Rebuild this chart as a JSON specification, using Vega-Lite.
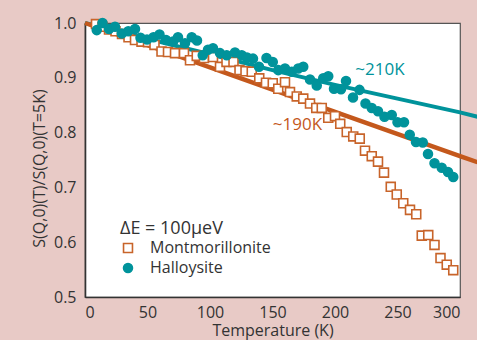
{
  "$schema": "https://vega.github.io/schema/vega-lite/v6.json",
  "width": 375,
  "height": 274,
  "autosize": {"type": "none"},
  "padding": {"left": 85, "top": 23, "right": 17, "bottom": 43},
  "background": "#e8cac6",
  "config": {
    "font": "Open Sans",
    "view": {"fill": "white", "stroke": "#555555", "strokeWidth": 1.2},
    "axis": {
      "grid": false,
      "ticks": false,
      "domainColor": "#333333",
      "domainWidth": 1.6,
      "labelFontSize": 16,
      "labelColor": "#333333",
      "titleFontSize": 16,
      "titleFontWeight": "normal",
      "titleColor": "#333333"
    }
  },
  "datasets": {
    "points": [
      {"T": 8.8, "V": 0.998, "sample": "Montmorillonite"},
      {"T": 14.0, "V": 0.993, "sample": "Montmorillonite"},
      {"T": 19.2, "V": 0.988, "sample": "Montmorillonite"},
      {"T": 24.4, "V": 0.985, "sample": "Montmorillonite"},
      {"T": 29.6, "V": 0.980, "sample": "Montmorillonite"},
      {"T": 34.8, "V": 0.974, "sample": "Montmorillonite"},
      {"T": 40.0, "V": 0.969, "sample": "Montmorillonite"},
      {"T": 45.2, "V": 0.966, "sample": "Montmorillonite"},
      {"T": 50.4, "V": 0.965, "sample": "Montmorillonite"},
      {"T": 55.6, "V": 0.960, "sample": "Montmorillonite"},
      {"T": 61.2, "V": 0.948, "sample": "Montmorillonite"},
      {"T": 66.4, "V": 0.947, "sample": "Montmorillonite"},
      {"T": 72.0, "V": 0.945, "sample": "Montmorillonite"},
      {"T": 79.2, "V": 0.945, "sample": "Montmorillonite"},
      {"T": 84.0, "V": 0.932, "sample": "Montmorillonite"},
      {"T": 89.4, "V": 0.940, "sample": "Montmorillonite"},
      {"T": 95.2, "V": 0.936, "sample": "Montmorillonite"},
      {"T": 102.4, "V": 0.938, "sample": "Montmorillonite"},
      {"T": 108.0, "V": 0.920, "sample": "Montmorillonite"},
      {"T": 113.2, "V": 0.929, "sample": "Montmorillonite"},
      {"T": 118.8, "V": 0.929, "sample": "Montmorillonite"},
      {"T": 123.6, "V": 0.914, "sample": "Montmorillonite"},
      {"T": 128.4, "V": 0.912, "sample": "Montmorillonite"},
      {"T": 133.4, "V": 0.911, "sample": "Montmorillonite"},
      {"T": 139.4, "V": 0.899, "sample": "Montmorillonite"},
      {"T": 144.8, "V": 0.891, "sample": "Montmorillonite"},
      {"T": 150.2, "V": 0.890, "sample": "Montmorillonite"},
      {"T": 154.6, "V": 0.880, "sample": "Montmorillonite"},
      {"T": 160.0, "V": 0.892, "sample": "Montmorillonite"},
      {"T": 164.0, "V": 0.874, "sample": "Montmorillonite"},
      {"T": 169.4, "V": 0.866, "sample": "Montmorillonite"},
      {"T": 174.6, "V": 0.862, "sample": "Montmorillonite"},
      {"T": 180.0, "V": 0.853, "sample": "Montmorillonite"},
      {"T": 185.0, "V": 0.845, "sample": "Montmorillonite"},
      {"T": 189.4, "V": 0.845, "sample": "Montmorillonite"},
      {"T": 194.6, "V": 0.827, "sample": "Montmorillonite"},
      {"T": 200.0, "V": 0.830, "sample": "Montmorillonite"},
      {"T": 204.2, "V": 0.816, "sample": "Montmorillonite"},
      {"T": 209.4, "V": 0.801, "sample": "Montmorillonite"},
      {"T": 214.6, "V": 0.793, "sample": "Montmorillonite"},
      {"T": 219.8, "V": 0.789, "sample": "Montmorillonite"},
      {"T": 224.0, "V": 0.767, "sample": "Montmorillonite"},
      {"T": 229.4, "V": 0.757, "sample": "Montmorillonite"},
      {"T": 234.4, "V": 0.747, "sample": "Montmorillonite"},
      {"T": 239.2, "V": 0.727, "sample": "Montmorillonite"},
      {"T": 244.6, "V": 0.701, "sample": "Montmorillonite"},
      {"T": 249.4, "V": 0.687, "sample": "Montmorillonite"},
      {"T": 254.6, "V": 0.671, "sample": "Montmorillonite"},
      {"T": 260.0, "V": 0.659, "sample": "Montmorillonite"},
      {"T": 265.0, "V": 0.651, "sample": "Montmorillonite"},
      {"T": 269.4, "V": 0.612, "sample": "Montmorillonite"},
      {"T": 274.6, "V": 0.613, "sample": "Montmorillonite"},
      {"T": 279.6, "V": 0.595, "sample": "Montmorillonite"},
      {"T": 284.4, "V": 0.571, "sample": "Montmorillonite"},
      {"T": 289.4, "V": 0.559, "sample": "Montmorillonite"},
      {"T": 294.6, "V": 0.549, "sample": "Montmorillonite"},
      {"T": 9.4, "V": 0.987, "sample": "Halloysite"},
      {"T": 14.0, "V": 1.000, "sample": "Halloysite"},
      {"T": 19.2, "V": 0.989, "sample": "Halloysite"},
      {"T": 24.0, "V": 0.993, "sample": "Halloysite"},
      {"T": 29.4, "V": 0.981, "sample": "Halloysite"},
      {"T": 34.6, "V": 0.985, "sample": "Halloysite"},
      {"T": 40.0, "V": 0.989, "sample": "Halloysite"},
      {"T": 44.4, "V": 0.973, "sample": "Halloysite"},
      {"T": 49.6, "V": 0.970, "sample": "Halloysite"},
      {"T": 54.8, "V": 0.974, "sample": "Halloysite"},
      {"T": 59.6, "V": 0.979, "sample": "Halloysite"},
      {"T": 64.8, "V": 0.969, "sample": "Halloysite"},
      {"T": 70.4, "V": 0.966, "sample": "Halloysite"},
      {"T": 74.4, "V": 0.974, "sample": "Halloysite"},
      {"T": 80.0, "V": 0.963, "sample": "Halloysite"},
      {"T": 85.4, "V": 0.974, "sample": "Halloysite"},
      {"T": 89.6, "V": 0.968, "sample": "Halloysite"},
      {"T": 94.2, "V": 0.941, "sample": "Halloysite"},
      {"T": 98.4, "V": 0.951, "sample": "Halloysite"},
      {"T": 102.4, "V": 0.954, "sample": "Halloysite"},
      {"T": 108.0, "V": 0.945, "sample": "Halloysite"},
      {"T": 113.4, "V": 0.941, "sample": "Halloysite"},
      {"T": 120.0, "V": 0.946, "sample": "Halloysite"},
      {"T": 125.4, "V": 0.941, "sample": "Halloysite"},
      {"T": 129.6, "V": 0.937, "sample": "Halloysite"},
      {"T": 134.4, "V": 0.935, "sample": "Halloysite"},
      {"T": 139.2, "V": 0.920, "sample": "Halloysite"},
      {"T": 145.2, "V": 0.936, "sample": "Halloysite"},
      {"T": 150.2, "V": 0.929, "sample": "Halloysite"},
      {"T": 154.6, "V": 0.914, "sample": "Halloysite"},
      {"T": 160.0, "V": 0.917, "sample": "Halloysite"},
      {"T": 165.4, "V": 0.911, "sample": "Halloysite"},
      {"T": 170.6, "V": 0.917, "sample": "Halloysite"},
      {"T": 174.6, "V": 0.920, "sample": "Halloysite"},
      {"T": 180.0, "V": 0.897, "sample": "Halloysite"},
      {"T": 185.4, "V": 0.886, "sample": "Halloysite"},
      {"T": 190.6, "V": 0.899, "sample": "Halloysite"},
      {"T": 194.6, "V": 0.903, "sample": "Halloysite"},
      {"T": 199.2, "V": 0.880, "sample": "Halloysite"},
      {"T": 204.8, "V": 0.879, "sample": "Halloysite"},
      {"T": 208.8, "V": 0.894, "sample": "Halloysite"},
      {"T": 214.4, "V": 0.864, "sample": "Halloysite"},
      {"T": 219.6, "V": 0.878, "sample": "Halloysite"},
      {"T": 224.4, "V": 0.853, "sample": "Halloysite"},
      {"T": 229.4, "V": 0.845, "sample": "Halloysite"},
      {"T": 234.4, "V": 0.839, "sample": "Halloysite"},
      {"T": 239.6, "V": 0.829, "sample": "Halloysite"},
      {"T": 245.4, "V": 0.832, "sample": "Halloysite"},
      {"T": 250.0, "V": 0.819, "sample": "Halloysite"},
      {"T": 255.2, "V": 0.819, "sample": "Halloysite"},
      {"T": 259.8, "V": 0.796, "sample": "Halloysite"},
      {"T": 264.8, "V": 0.783, "sample": "Halloysite"},
      {"T": 270.2, "V": 0.782, "sample": "Halloysite"},
      {"T": 274.4, "V": 0.761, "sample": "Halloysite"},
      {"T": 279.6, "V": 0.744, "sample": "Halloysite"},
      {"T": 285.4, "V": 0.736, "sample": "Halloysite"},
      {"T": 290.4, "V": 0.728, "sample": "Halloysite"},
      {"T": 294.6, "V": 0.719, "sample": "Halloysite"}
    ],
    "fits": [
      {"T": 0, "V": 1.0, "sample": "Montmorillonite"},
      {"T": 100, "V": 0.919, "sample": "Montmorillonite"},
      {"T": 200, "V": 0.838, "sample": "Montmorillonite"},
      {"T": 300, "V": 0.757, "sample": "Montmorillonite"},
      {"T": 314, "V": 0.746, "sample": "Montmorillonite"},
      {"T": 0, "V": 1.0, "sample": "Halloysite"},
      {"T": 50, "V": 0.971, "sample": "Halloysite"},
      {"T": 100, "V": 0.943, "sample": "Halloysite"},
      {"T": 150, "V": 0.914, "sample": "Halloysite"},
      {"T": 200, "V": 0.887, "sample": "Halloysite"},
      {"T": 250, "V": 0.862, "sample": "Halloysite"},
      {"T": 300, "V": 0.837, "sample": "Halloysite"},
      {"T": 314, "V": 0.829, "sample": "Halloysite"}
    ],
    "notes": [
      {"T": 236, "V": 0.914, "text": "~210K", "sample": "Halloysite"},
      {"T": 170, "V": 0.813, "text": "~190K", "sample": "Montmorillonite"}
    ],
    "xTicks": [
      {"T": 25}, {"T": 50}, {"T": 75}, {"T": 100}, {"T": 125}, {"T": 150},
      {"T": 175}, {"T": 200}, {"T": 225}, {"T": 250}, {"T": 275}
    ],
    "yTicks": [
      {"V": 0.55}, {"V": 0.6}, {"V": 0.65}, {"V": 0.7}, {"V": 0.75},
      {"V": 0.8}, {"V": 0.85}, {"V": 0.9}, {"V": 0.95}
    ]
  },
  "encoding": {
    "x": {
      "field": "T",
      "type": "quantitative",
      "scale": {"domain": [0, 300], "nice": false},
      "axis": {
        "title": "Temperature (K)",
        "values": [0, 50, 100, 150, 200, 250, 300],
        "labelPadding": 7,
        "titlePadding": 2
      }
    },
    "y": {
      "field": "V",
      "type": "quantitative",
      "scale": {"domain": [0.5, 1.0], "nice": false, "zero": false},
      "axis": {
        "title": "S(Q,0)(T)/S(Q,0)(T=5K)",
        "titleY": 145,
        "values": [0.5, 0.6, 0.7, 0.8, 0.9, 1.0],
        "format": ".1f",
        "labelPadding": 9,
        "titlePadding": 6
      }
    }
  },
  "layer": [
    {
      "data": {"name": "xTicks"},
      "mark": {"type": "rule", "color": "#333333", "strokeWidth": 1.5},
      "encoding": {
        "x": {"field": "T", "type": "quantitative"},
        "y": {"datum": 0.5},
        "y2": {"datum": 0.5147}
      }
    },
    {
      "data": {"name": "yTicks"},
      "mark": {"type": "rule", "color": "#333333", "strokeWidth": 1.5},
      "encoding": {
        "y": {"field": "V", "type": "quantitative"},
        "x": {"datum": 0},
        "x2": {"datum": 6.4}
      }
    },
    {
      "data": {"name": "fits"},
      "transform": [{"filter": "datum.sample === 'Halloysite'"}],
      "mark": {"type": "line", "color": "#00939b", "strokeWidth": 4, "clip": false}
    },
    {
      "data": {"name": "fits"},
      "transform": [{"filter": "datum.sample === 'Montmorillonite'"}],
      "mark": {"type": "line", "color": "#c4581c", "strokeWidth": 4.5, "clip": false}
    },
    {
      "data": {"name": "points"},
      "mark": {"type": "point", "filled": false, "strokeWidth": 1.6, "opacity": 1},
      "encoding": {
        "shape": {
          "field": "sample",
          "type": "nominal",
          "sort": ["Montmorillonite", "Halloysite"],
          "scale": {"domain": ["Montmorillonite", "Halloysite"], "range": ["square", "circle"]},
          "legend": {
            "title": "ΔE = 100μeV",
            "orient": "none",
            "legendX": 35,
            "legendY": 197,
            "titleFontSize": 18,
            "titleFontWeight": "normal",
            "titleColor": "#333333",
            "labelFontSize": 16,
            "labelColor": "#333333",
            "labelOffset": 14,
            "symbolSize": 80,
            "symbolStrokeWidth": 1.6,
            "rowPadding": 4,
            "titlePadding": 2
          }
        },
        "fill": {
          "field": "sample",
          "type": "nominal",
          "scale": {"domain": ["Montmorillonite", "Halloysite"], "range": ["#ffffff", "#00939b"]}
        },
        "stroke": {
          "field": "sample",
          "type": "nominal",
          "scale": {"domain": ["Montmorillonite", "Halloysite"], "range": ["#c8642a", "#00939b"]}
        },
        "size": {"value": 80}
      }
    },
    {
      "data": {"name": "notes"},
      "transform": [{"filter": "datum.sample === 'Halloysite'"}],
      "mark": {"type": "text", "color": "#00939b", "fontSize": 17, "align": "center", "baseline": "middle"},
      "encoding": {"text": {"field": "text"}}
    },
    {
      "data": {"name": "notes"},
      "transform": [{"filter": "datum.sample === 'Montmorillonite'"}],
      "mark": {"type": "text", "color": "#c4581c", "fontSize": 17, "align": "center", "baseline": "middle"},
      "encoding": {"text": {"field": "text"}}
    }
  ]
}
